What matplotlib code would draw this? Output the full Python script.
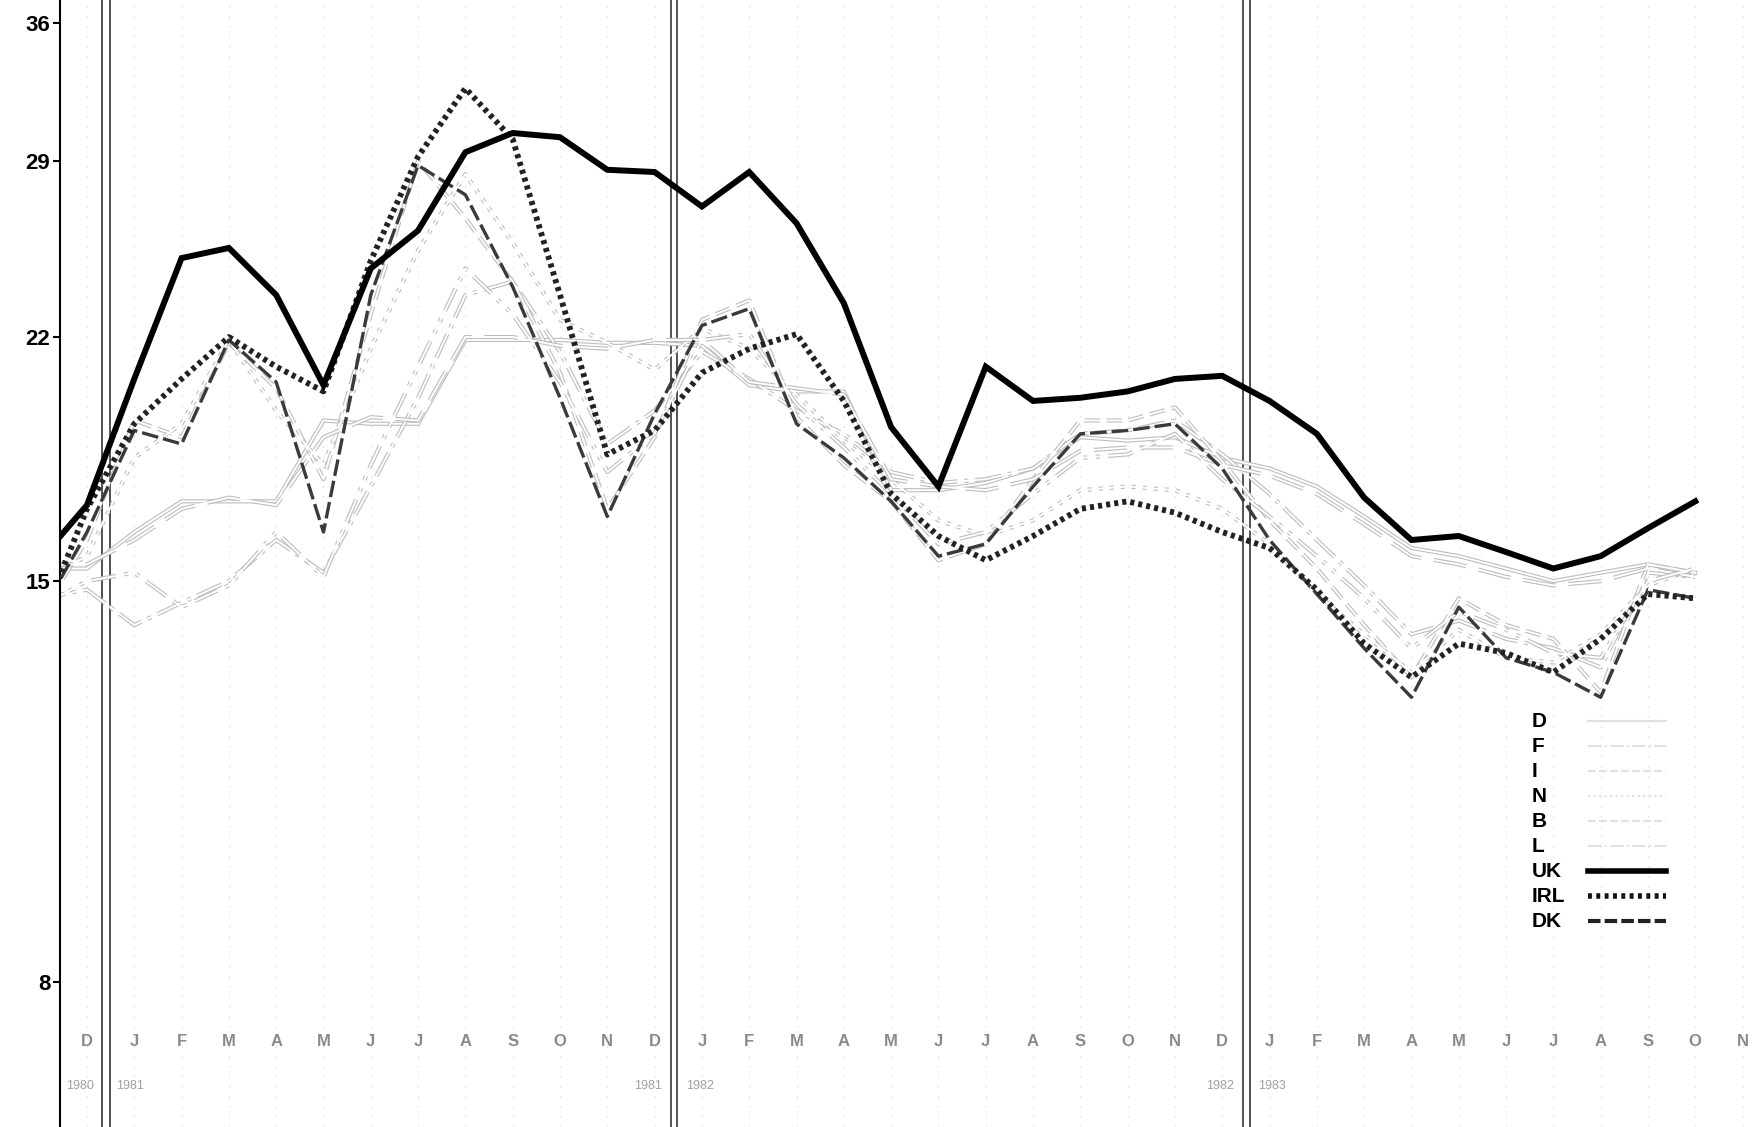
import numpy as np
import matplotlib
matplotlib.use('Agg')
import matplotlib.pyplot as plt

plt.rcParams['font.family'] = ['Liberation Sans', 'DejaVu Sans']

# month labels (index 0 = December of first year)
months = ["D", "J", "F", "M", "A", "M", "J", "J", "A", "S", "O", "N",
          "D", "J", "F", "M", "A", "M", "J", "J", "A", "S", "O", "N",
          "D", "J", "F", "M", "A", "M", "J", "J", "A", "S", "O", "N"]
years = ["1980", "1981", "1981", "1982", "1982", "1983"]

# series values, month index -1 .. 34
uk = [15.5, 16.9, 20.6, 24.9, 25.3, 23.5, 20.4, 24.5, 26.0, 29.4, 30.3, 30.1,
      28.6, 28.5, 27.0, 28.5, 26.3, 23.2, 19.1, 17.4, 21.0, 19.9, 20.0, 20.2,
      20.6, 20.7, 19.9, 18.9, 17.1, 16.0, 16.1, 15.7, 15.3, 15.6, 16.3, 17.0]
irl = [14.0, 16.8, 19.2, 20.6, 22.0, 21.0, 20.2, 24.8, 29.2, 32.5, 30.0, 23.5,
       18.3, 19.0, 20.8, 21.6, 22.1, 19.9, 17.2, 16.1, 15.5, 16.1, 16.8, 17.0,
       16.7, 16.2, 15.8, 14.8, 13.6, 12.9, 13.6, 13.4, 13.0, 13.7, 14.7, 14.6]
dk = [14.2, 16.2, 19.0, 18.6, 21.9, 20.5, 16.2, 23.5, 28.8, 27.5, 23.8, 20.0,
      16.6, 19.5, 22.4, 23.0, 19.2, 18.2, 17.0, 15.6, 15.9, 17.4, 18.9, 19.0,
      19.2, 17.9, 16.0, 14.7, 13.5, 12.5, 14.4, 13.3, 13.0, 12.5, 14.8, 14.6]
d = [15.3, 15.3, 16.2, 17.0, 17.0, 17.0, 19.3, 19.2, 19.2, 21.9, 21.9, 21.9,
     21.8, 21.8, 21.7, 20.4, 20.2, 20.2, 17.3, 17.3, 17.5, 17.9, 18.8, 18.7,
     18.8, 18.2, 17.9, 17.4, 16.6, 15.8, 15.6, 15.3, 15.0, 15.2, 15.4, 15.2]
f = [14.6, 14.8, 14.0, 14.5, 15.0, 16.0, 15.2, 17.4, 20.0, 23.5, 24.0, 21.5,
     18.6, 19.6, 21.5, 20.6, 19.6, 18.9, 17.8, 17.5, 17.6, 17.9, 18.9, 19.0,
     19.3, 18.3, 17.2, 16.0, 14.9, 13.8, 14.1, 13.7, 13.5, 13.1, 15.2, 15.1]
i_ = [14.2, 16.0, 19.3, 18.8, 21.8, 20.3, 17.6, 22.8, 29.0, 26.5, 24.0, 20.8,
      16.8, 18.8, 22.6, 23.3, 19.4, 18.0, 17.0, 15.5, 15.9, 17.6, 19.3, 19.3,
      19.7, 18.1, 16.5, 15.3, 14.0, 12.9, 14.6, 14.0, 13.7, 12.6, 15.4, 15.2]
n = [15.0, 15.6, 18.2, 19.2, 21.9, 19.6, 18.0, 21.6, 25.2, 28.4, 25.5, 22.6,
     21.8, 20.9, 22.3, 21.6, 20.1, 18.7, 17.6, 16.5, 16.1, 16.5, 17.3, 17.4,
     17.3, 16.8, 15.9, 14.7, 13.8, 13.0, 13.9, 13.3, 13.2, 13.8, 14.9, 15.3]
b = [15.4, 15.4, 16.0, 16.8, 17.1, 16.9, 18.8, 19.4, 19.3, 22.0, 22.0, 21.7,
     21.6, 21.9, 21.9, 20.5, 20.3, 20.1, 17.6, 17.4, 17.3, 17.6, 18.4, 18.5,
     18.5, 18.0, 17.7, 17.2, 16.4, 15.6, 15.4, 15.1, 14.9, 15.0, 15.3, 15.1]
l = [14.4, 15.0, 15.2, 14.4, 14.9, 16.2, 15.1, 18.0, 21.0, 24.5, 22.8, 20.5,
     17.8, 18.9, 21.9, 22.1, 19.8, 18.5, 17.2, 15.9, 16.2, 17.2, 18.2, 18.3,
     18.9, 17.6, 16.6, 15.6, 14.6, 13.5, 14.3, 13.9, 13.4, 13.3, 15.0, 15.3]

x = np.arange(-1, len(uk) - 1)

fig = plt.figure(figsize=(17.53, 11.27), dpi=100)
ax = fig.add_axes([60 / 1753, 0, 1693 / 1753, 1])
ax.set_yscale('log')
ax.set_ylim(6.37, 37.33)
ax.set_xlim(-0.57, 35.22)

# faint grid specks
for m in range(len(months)):
    ax.axvline(m, color='#d0d0d0', lw=0.8, ls=(0, (1, 8)), zorder=0)

# year separators (double lines)
for sep in [0.32, 0.49, 12.35, 12.47, 24.44, 24.59]:
    ax.axvline(sep, color='#333333', lw=1.2, zorder=1)

# ghost series: grey outline with white core
faint = [(d, '-'), (f, '-.'), (i_, '--'), (n, ':'), (b, (0, (8, 3))), (l, (0, (6, 2, 1, 2, 1, 2)))]
for vals, st in faint:
    ax.plot(x, vals, color='#bdbdbd', lw=3.0, ls=st, zorder=2)
    ax.plot(x, vals, color='white', lw=1.4, ls='-', zorder=2)

ax.plot(x, dk, color='#3a3a3a', lw=2.4, ls=(0, (5, 1.5)), zorder=3)
ax.plot(x, irl, color='#222222', lw=4.2, ls=(0, (0.7, 0.7)), zorder=4)
ax.plot(x, uk, color='black', lw=4.3, solid_joinstyle='miter', zorder=5)

# month and year labels inside the frame
for m, lab in enumerate(months):
    ax.text(m, 7.28, lab, ha='center', va='center', fontsize=12,
            color='#8a8a8a', fontweight='bold')
for xp, lab in zip([-0.15, 0.9, 11.85, 12.95, 23.95, 25.05], years):
    ax.text(xp, 6.79, lab, ha='center', va='center', fontsize=9, color='#a0a0a0')

ax.set_yticks([8, 15, 22, 29, 36])
ax.set_yticklabels(['8', '15', '22', '29', '36'], fontweight='bold')
ax.yaxis.set_minor_locator(plt.NullLocator())
ax.tick_params(axis='y', length=5, width=1.5, pad=2, labelsize=16)
ax.set_xticks([])
for s in ['top', 'right', 'bottom']:
    ax.spines[s].set_visible(False)
ax.spines['left'].set_linewidth(1.5)

# legend drawn by hand: labels left, samples right
names = ["D", "F", "I", "N", "B", "L", "UK", "IRL", "DK"]
styles = [('#e0e0e0', 1.5, '-'), ('#e0e0e0', 1.5, '-.'), ('#e0e0e0', 1.5, '--'),
          ('#e0e0e0', 1.5, ':'), ('#e0e0e0', 1.5, '--'), ('#e0e0e0', 1.5, '-.'),
          ('black', 4.0, '-'), ('#111111', 4.0, (0, (0.7, 0.8))), ('#222222', 3.0, (0, (3, 1)))]
for k, (nm, (c, w, st)) in enumerate(zip(names, styles)):
    yy = 0.360 - k * 0.0222
    ax.text(0.8695, yy, nm, transform=ax.transAxes, ha='left', va='center',
            fontsize=15, fontweight='bold')
    ax.plot([0.9025, 0.9486], [yy, yy], transform=ax.transAxes, color=c, lw=w, ls=st)

fig.savefig('out.png', dpi=100)
